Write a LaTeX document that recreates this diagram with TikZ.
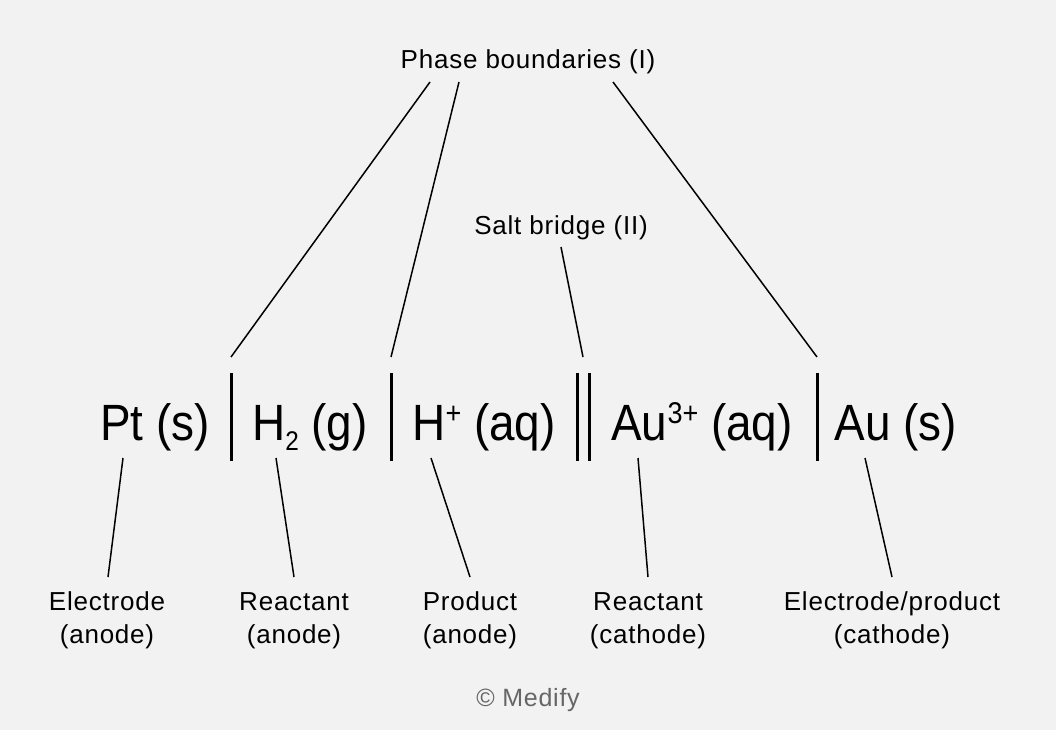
\documentclass[tikz,border=0pt]{standalone}
\usepackage{fontspec}
\setmainfont{Liberation Sans}[LetterSpace=3]
\newfontfamily\formulafont{Liberation Sans}[FakeStretch=0.9]
\usetikzlibrary{positioning}
\definecolor{bgcolor}{HTML}{F2F2F2}
\definecolor{creditgray}{HTML}{666666}
\newcommand{\cellsup}[1]{\raisebox{17pt}{\fontsize{30}{30}\selectfont #1}}
\newcommand{\cellsub}[1]{\raisebox{-10pt}{\fontsize{27}{27}\selectfont #1}}
\newcommand{\twolines}[2]{\rule{0pt}{22pt}#1\\#2}
\tikzset{
	labelnode/.style={
			font=\fontsize{26}{33}\selectfont,
			align=center,
			inner sep=0pt
		},
	bottomlabel/.style={
			labelnode,
			anchor=north
		},
	formulanode/.style={
			font=\formulafont\fontsize{51}{60}\selectfont,
			anchor=base,
			inner sep=0pt
		},
	connector/.style={
			line width=1.5pt
		},
	phasebar/.style={
			line width=3pt
		}
}

\begin{document}
\begin{tikzpicture}[x=1pt, y=-1pt]
\fill[bgcolor] (0,0) rectangle (1056,730);
\useasboundingbox (0,0) rectangle (1056,730);

% cell notation
\node[formulanode] (pt) at (155,440) {Pt (s)};
\node[formulanode] (h2) at (310,440) {H\cellsub{2} (g)};
\node[formulanode] (hplus) at (484,440) {H\cellsup{+} (aq)};
\node[formulanode] (au3) at (702,440) {Au\cellsup{3+} (aq)};
\node[formulanode] (au) at (896,440) {Au (s)};

\coordinate (b1top) at (231,373); \coordinate (b1bot) at (231,461);
\coordinate (b2top) at (391,373); \coordinate (b2bot) at (391,461);
\coordinate (b3top) at (577,373); \coordinate (b3bot) at (577,461);
\coordinate (b4top) at (589,373); \coordinate (b4bot) at (589,461);
\coordinate (b5top) at (817,373); \coordinate (b5bot) at (817,461);
\draw[phasebar] (b1top) -- (b1bot);
\draw[phasebar] (b2top) -- (b2bot);
\draw[phasebar] (b3top) -- (b3bot);
\draw[phasebar] (b4top) -- (b4bot);
\draw[phasebar] (b5top) -- (b5bot);

% labels
\node[labelnode] (phase) at (528,62) {Phase boundaries (I)};
\node[labelnode] (salt) at (561,228) {Salt bridge (II)};
\node[bottomlabel] (electrode) at (107,588) {\twolines{Electrode}{(anode)}};
\node[bottomlabel] (reactanode) at (294,588) {\twolines{Reactant}{(anode)}};
\node[bottomlabel] (prodanode) at (470,588) {\twolines{Product}{(anode)}};
\node[bottomlabel] (reactcathode) at (648,588) {\twolines{Reactant}{(cathode)}};
\node[bottomlabel] (electcathode) at (892,588) {\twolines{Electrode/product}{(cathode)}};
\node[labelnode, text=creditgray, font=\fontsize{25}{30}\selectfont] (credit) at (528,700) {© Medify};

% connectors
\coordinate (p1) at (430,82); \coordinate (q1) at (231,357);
\coordinate (p2) at (459,82); \coordinate (q2) at (391,357);
\coordinate (p3) at (613,82); \coordinate (q3) at (817,357);
\coordinate (s1) at (561,247); \coordinate (s2) at (583,357);
\draw[connector] (p1) -- (q1);
\draw[connector] (p2) -- (q2);
\draw[connector] (p3) -- (q3);
\draw[connector] (s1) -- (s2);

\coordinate (e1) at (123,458); \coordinate (f1) at (108,577);
\coordinate (e2) at (276,458); \coordinate (f2) at (294,577);
\coordinate (e3) at (431,458); \coordinate (f3) at (470,577);
\coordinate (e4) at (638,458); \coordinate (f4) at (648,577);
\coordinate (e5) at (865,458); \coordinate (f5) at (892,577);
\draw[connector] (e1) -- (f1);
\draw[connector] (e2) -- (f2);
\draw[connector] (e3) -- (f3);
\draw[connector] (e4) -- (f4);
\draw[connector] (e5) -- (f5);
\end{tikzpicture}
\end{document}
